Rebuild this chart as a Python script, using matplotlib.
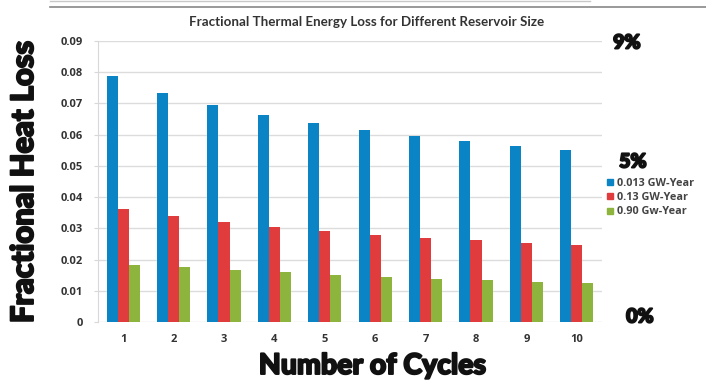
import numpy as np
import matplotlib
matplotlib.use("Agg")
import matplotlib.pyplot as plt
from matplotlib.lines import Line2D
import matplotlib.patheffects as pe

# data
cycles = [1, 2, 3, 4, 5, 6, 7, 8, 9, 10]
loss_small = [0.0788, 0.0734, 0.0695, 0.0663, 0.0638, 0.0615, 0.0597, 0.0580, 0.0564, 0.0550]
loss_mid = [0.0362, 0.0339, 0.0320, 0.0305, 0.0292, 0.0280, 0.0270, 0.0262, 0.0253, 0.0246]
loss_big = [0.0184, 0.0175, 0.0167, 0.0159, 0.0151, 0.0144, 0.0139, 0.0134, 0.0129, 0.0125]
series_names = ["0.013 GW-Year", "0.13 GW-Year", "0.90 Gw-Year"]
yticks = [0, 0.01, 0.02, 0.03, 0.04, 0.05, 0.06, 0.07, 0.08, 0.09]
ytick_labels = ["0", "0.01", "0.02", "0.03", "0.04", "0.05", "0.06", "0.07", "0.08", "0.09"]
pct_labels = ["9%", "5%", "0%"]

colors = ["#0b84c6", "#e03c3e", "#8db43c"]
heavy = ["Lato", "DejaVu Sans"]
thick = [pe.withStroke(linewidth=1.4, foreground="#111111")]

W, H = 706, 380
fig = plt.figure(figsize=(W / 100, H / 100), dpi=100)
ax = fig.add_axes([98 / W, 1 - 322 / H, (602 - 98) / W, (322 - 41) / H])

x = np.array(cycles)
bw = 0.22
for i, vals in enumerate([loss_small, loss_mid, loss_big]):
    ax.bar(x + (i - 1) * bw, vals, width=bw, color=colors[i], zorder=3)

ax.set_xlim(0.5, 10.5)
ax.set_ylim(0, 0.09)
ax.set_yticks(yticks)
ax.set_yticklabels(ytick_labels)
ax.set_xticks(x)
ax.grid(axis="y", color="#dcdcdc", linewidth=1, zorder=0)
for s in ["top", "right", "bottom"]:
    ax.spines[s].set_visible(False)
ax.spines["left"].set_color("#d8d8d8")
ax.tick_params(axis="y", length=3, color="#d8d8d8", pad=8, labelsize=8, labelcolor="#333333")
ax.tick_params(axis="x", length=0, pad=9, labelsize=8, labelcolor="#333333")
for lab in ax.get_xticklabels() + ax.get_yticklabels():
    lab.set_fontweight("bold")
    lab.set_family(["Open Sans", "DejaVu Sans"])

# chart title
fig.text(367 / W, 1 - 22 / H, "Fractional Thermal Energy Loss for Different Reservoir Size",
         ha="center", va="center", fontsize=9.6, fontweight="bold", color="#333333",
         family=["Lato", "DejaVu Sans"])

# big slide labels
ylab = fig.text(24 / W, 1 - 182 / H, "Fractional Heat Loss", rotation=90,
                ha="center", va="center", fontsize=20, fontweight=900, color="#111111",
                family=heavy, path_effects=thick)
xlab = fig.text(372 / W, 1 - 366 / H, "Number of Cycles",
                ha="center", va="center", fontsize=16, fontweight=900, color="#111111",
                family=heavy, path_effects=thick)

pct_pos = [(627, 43), (633, 162), (640, 317)]
for lab, (px, py) in zip(pct_labels, pct_pos):
    fig.text(px / W, 1 - py / H, lab, ha="center", va="center", fontsize=14,
             fontweight=900, color="#111111", family=heavy, path_effects=thick)

# fit the big labels to the reference lengths
fig.canvas.draw()
r = fig.canvas.get_renderer()
for t, target, horiz in [(ylab, 283, False), (xlab, 227, True)]:
    bb = t.get_window_extent(r)
    cur = bb.width if horiz else bb.height
    t.set_fontsize(t.get_fontsize() * target / cur)

# legend
handles = [Line2D([], [], marker="s", linestyle="none", markersize=5,
                  markerfacecolor=c, markeredgecolor=c) for c in colors]
leg = fig.legend(handles, series_names, loc="upper left", bbox_to_anchor=(605 / W, 1 - 178 / H),
                 frameon=False, fontsize=7.8, handletextpad=0.1, labelspacing=0.3,
                 handlelength=1.0, borderaxespad=0, borderpad=0)
for t in leg.get_texts():
    t.set_fontweight("bold")
    t.set_color("#444444")
    t.set_family(["Open Sans", "DejaVu Sans"])

# slide decoration lines at the top
fig.add_artist(Line2D([50 / W, 590 / W], [1 - 1 / H, 1 - 1 / H], color="#c8c8c8", linewidth=1))
fig.add_artist(Line2D([50 / W, 1.0], [1 - 7 / H, 1 - 7 / H], color="#888888", linewidth=1.2))

fig.savefig("out.png", dpi=100)
